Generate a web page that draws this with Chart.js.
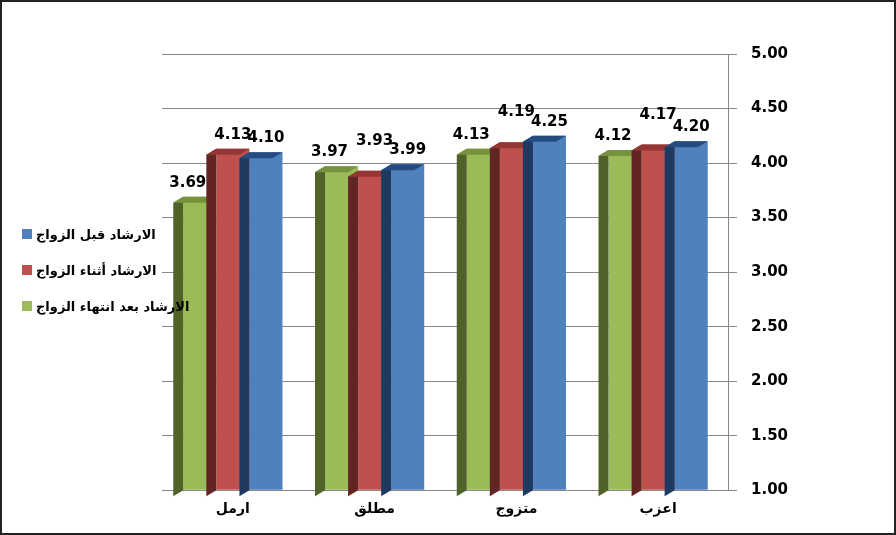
<!DOCTYPE html>
<html><head><meta charset="utf-8">
<script src="https://cdn.jsdelivr.net/npm/chart.js@4"></script>
<style>
html,body{margin:0;padding:0;background:#fff}
#wrap{position:relative;width:892px;height:531px;border:2px solid #222;}
#legend{position:absolute;left:20px;top:214px;font:bold 13px "DejaVu Sans",sans-serif;}
#legend div{display:flex;align-items:center;height:36px;}
#legend span.b{width:10px;height:10px;display:inline-block;margin-right:4px}
</style></head>
<body>
<div id="wrap">
<canvas id="c" width="892" height="531"></canvas>
<div id="legend"></div>
</div>
<script>
// ─── data ─────────────────────────────
const categories = ["ارمل", "مطلق", "متزوج", "اعزب"];
const afterValues  = [3.69, 3.97, 4.13, 4.12];  // الارشاد بعد انتهاء الزواج
const duringValues = [4.13, 3.93, 4.19, 4.17];  // الارشاد أثناء الزواج
const beforeValues = [4.10, 3.99, 4.25, 4.20];  // الارشاد قبل الزواج
const seriesNames = ["الارشاد بعد انتهاء الزواج", "الارشاد أثناء الزواج", "الارشاد قبل الزواج"];
const colors = ["#9BBB59", "#C0504D", "#4F81BD"];
const sideColors = ["#4F6228", "#632523", "#1F3A60"];
const topColors = ["#76923C", "#943634", "#254B80"];

// legend (blue first, top to bottom)
const lg = document.getElementById("legend");
[2, 1, 0].forEach(i => {
  const d = document.createElement("div");
  d.innerHTML = `<span class="b" style="background:${colors[i]}"></span><span dir="rtl">${seriesNames[i]}</span>`;
  lg.appendChild(d);
});

// ─── 3D faces + labels ─────────────────────────────
const depth = 10;
const barDeco = {
  id: "barDeco",
  afterDatasetsDraw(chart) {
    const ctx = chart.ctx;
    const bottom = chart.scales.y.bottom;
    chart.data.datasets.forEach((ds, di) => {
      chart.getDatasetMeta(di).data.forEach((bar, i) => {
        const w = bar.width, l = bar.x - w / 2, r = bar.x + w / 2, t = bar.y;
        ctx.fillStyle = sideColors[di];
        ctx.beginPath();
        ctx.moveTo(l, t); ctx.lineTo(l - depth, t + depth * 0.6);
        ctx.lineTo(l - depth, bottom + depth * 0.6); ctx.lineTo(l, bottom);
        ctx.closePath(); ctx.fill();
        ctx.fillStyle = topColors[di];
        ctx.beginPath();
        ctx.moveTo(l, t); ctx.lineTo(r, t);
        ctx.lineTo(r - depth, t + depth * 0.6); ctx.lineTo(l - depth, t + depth * 0.6);
        ctx.closePath(); ctx.fill();
        ctx.fillStyle = "#000";
        ctx.font = "bold 15px 'DejaVu Sans', sans-serif";
        ctx.textAlign = "center";
        const dy = (di === 1 && i > 0) ? 26 : 10;
        ctx.fillText(ds.data[i].toFixed(2), bar.x - (di === 0 ? 12 : 0), t - dy);
      });
    });
  }
};

new Chart(document.getElementById("c"), {
  type: "bar",
  data: {
    labels: categories,
    datasets: [afterValues, duringValues, beforeValues].map((v, i) => ({
      label: seriesNames[i], data: v, backgroundColor: colors[i], base: 1
    }))
  },
  options: {
    responsive: false, animation: false,
    layout: { padding: { left: 160, top: 52, right: 92, bottom: 12 } },
    plugins: { legend: { display: false }, tooltip: { enabled: false } },
    datasets: { bar: { categoryPercentage: 0.7, barPercentage: 1 } },
    scales: {
      x: {
        grid: { display: false },
        border: { color: "#888" },
        ticks: { color: "#000", font: { size: 14, weight: "bold", family: "DejaVu Sans" } }
      },
      y: {
        position: "right", min: 1, max: 5,
        grid: { color: "#888" },
        border: { color: "#888" },
        ticks: { stepSize: 0.5, color: "#000", padding: 14,
          font: { size: 15, weight: "bold", family: "DejaVu Sans" },
          callback: v => v.toFixed(2) }
      }
    }
  },
  plugins: [barDeco]
});
</script>
</body></html>
